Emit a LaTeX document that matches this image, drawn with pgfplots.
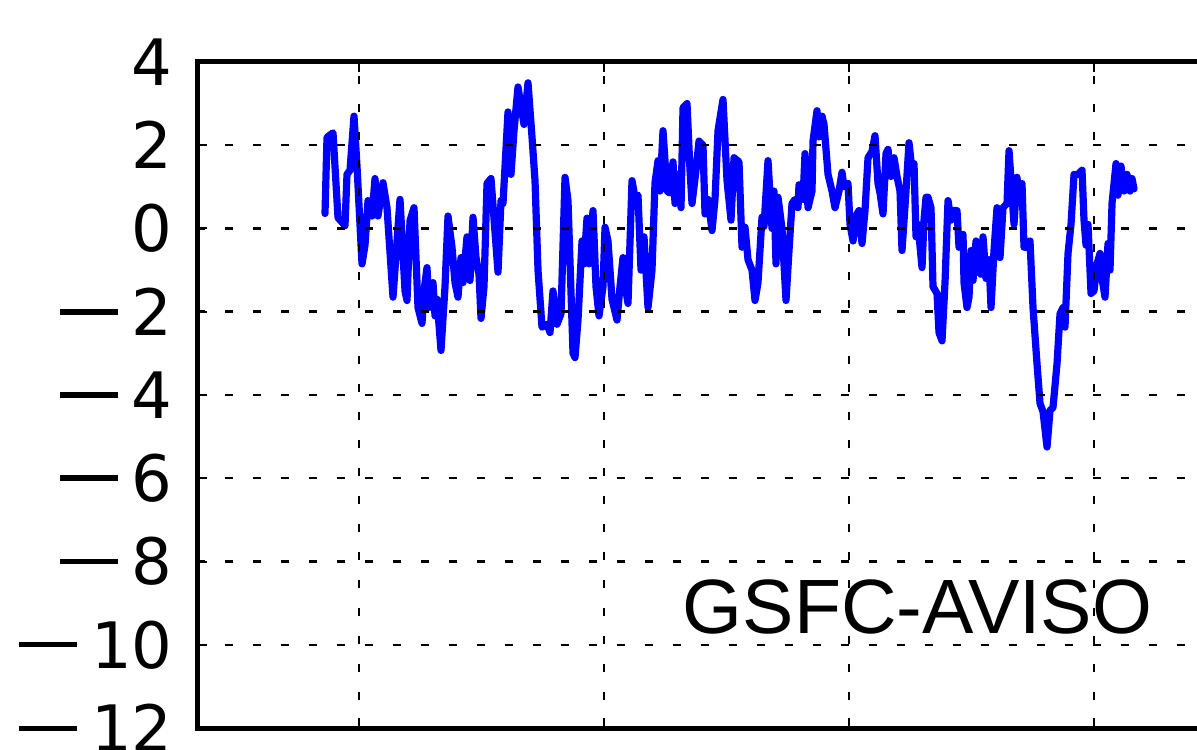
\documentclass[border=0pt]{standalone}
\usepackage{pgfplots}
\pgfplotsset{compat=1.18}
\usepackage{fontspec}
\setmainfont{DejaVu Sans}
\newfontfamily\lib{Liberation Sans}
\newcommand\mm{\rule[0.325em]{0.9em}{0.082em}\hspace{0.22em}}
\begin{document}
\begin{tikzpicture}[x=0.5pt,y=0.5pt]
\useasboundingbox (0,0) rectangle (1197,749);
\clip (0,0) rectangle (1197,749);
\begin{axis}[
  at={(98.5pt,10.5pt)}, anchor=south west,
  scale only axis, width=546.5pt, height=333pt,
  xmin=197, xmax=1290, ymin=-12, ymax=4,
  xtick={359,604,849,1094}, xticklabels={},
  ytick={-12,-10,-8,-6,-4,-2,0,2,4},
  yticklabels={\mm12,\mm10,\mm8,\mm6,\mm4,\mm2,0,2,4},
  grid=major,
  grid style={black, line width=1.25pt, dash pattern=on 4pt off 10pt},
  axis line style={black, line width=2.5pt},
  tick align=inside, major tick length=5pt,
  tick style={black, line width=1pt},
  ticklabel style={font=\fontsize{32}{32}\selectfont},
  yticklabel style={inner sep=0pt, xshift=-12pt},
  axis on top,
]
\addplot[color={rgb,255:red,0;green,0;blue,255}, line width=3.6pt, line join=round, line cap=round] coordinates {
(325,0.36) (327,2.19) (333,2.3) (338,0.26) (345,0.07) (347,1.3) (350,1.4) (354,2.7)
(357,1.5) (362,-0.85) (365,-0.4) (368,0.67) (372,0.3) (375,1.2) (378,0.3) (383,1.1)
(387,0.5) (393,-1.65) (400,0.7) (405,-1.5) (407,-1.73) (410,0.19) (414,0.5) (418,-1.9)
(422,-2.28) (424,-1.5) (427,-0.94) (429,-1.9) (433,-1.3) (435,-2.1) (437,-1.7) (441,-2.93)
(445,-1.4) (448,0.3) (452,-0.45) (455,-1.3) (458,-1.65) (461,-0.7) (463,-1.3) (467,-0.2)
(470,-1.25) (473,0.27) (476,-0.7) (479,-1.1) (481,-2.16) (484,-1.4) (487,1.08) (491,1.2)
(498,-1.05) (501,0.67) (503,0.6) (508,2.8) (511,1.3) (514,2.35) (518,3.4) (524,2.5)
(528,3.5) (532,2.2) (535,1.15) (538,-1.0) (542,-2.37) (547,-2.3) (550,-2.5) (553,-1.5)
(557,-2.3) (561,-2.05) (565,1.23) (568,0.67) (573,-3.0) (575,-3.1) (578,-2.2) (582,-0.3)
(584,-0.85) (587,0.25) (589,-0.85) (593,0.43) (596,-1.4) (599,-2.1) (603,-1.4) (605,0.03)
(608,-0.3) (612,-1.7) (617,-2.2) (620,-1.4) (623,-0.7) (626,-1.5) (628,-1.8) (632,1.15)
(635,0.75) (638,0.8) (641,-1.0) (644,-0.2) (648,-1.9) (652,-1.0) (655,1.1) (658,1.63)
(660,0.9) (663,2.35) (667,0.9) (670,0.85) (673,1.6) (675,0.6) (678,1.3) (681,0.5)
(683,2.9) (687,3.0) (690,1.4) (692,0.6) (696,1.4) (699,2.1) (703,2.0) (705,0.35)
(708,0.7) (712,-0.05) (715,0.7) (718,2.35) (723,3.1) (727,1.15) (731,0.2) (734,1.7)
(739,1.6) (742,-0.45) (745,0.03) (748,-0.75) (752,-1.0) (755,-1.73) (758,-1.3) (762,0.27)
(764,0.05) (768,1.63) (772,0.0) (774,0.9) (776,-0.85) (778,0.75) (782,0.0) (786,-1.73)
(789,-0.53) (792,0.6) (795,0.7) (798,0.5) (799,1.05) (803,0.7) (805,1.8) (808,0.5)
(812,0.9) (813,2.1) (817,2.83) (819,2.2) (822,2.7) (824,2.5) (828,1.3) (832,0.9)
(835,0.5) (839,0.9) (842,1.35) (844,1.0) (848,1.08) (850,0.1) (853,-0.3) (857,0.35)
(859,0.43) (862,-0.36) (865,0.43) (868,1.7) (872,1.85) (875,2.23) (878,1.08) (880,0.85)
(883,0.35) (886,1.8) (888,1.9) (891,1.25) (894,1.7) (897,1.25) (900,0.9) (902,-0.53)
(906,0.9) (909,2.06) (912,1.4) (914,1.56) (916,-0.2) (918,0.1) (922,-0.94) (924,0.2)
(926,0.75) (928,0.75) (931,0.5) (933,-1.4) (937,-1.56) (939,-2.5) (942,-2.7) (945,-1.3)
(948,0.67) (951,0.2) (953,0.43) (957,0.43) (959,-0.45) (963,-0.14) (964,-1.3) (967,-1.9)
(969,-1.65) (971,-0.53) (973,-1.25) (976,-0.3) (978,-1.0) (981,-1.1) (983,-0.2) (986,-1.2)
(989,-0.75) (991,-1.9) (994,-0.53) (997,0.5) (1000,-0.7) (1003,0.5) (1007,0.6) (1009,1.87)
(1012,0.83) (1014,0.1) (1017,1.23) (1019,0.7) (1022,1.08) (1024,-0.45) (1027,-0.45) (1030,-0.3)
(1033,-1.9) (1037,-3.25) (1040,-4.2) (1043,-4.4) (1047,-5.25) (1050,-4.37) (1053,-4.3) (1057,-3.25)
(1060,-2.05) (1063,-1.9) (1065,-2.37) (1068,-0.6) (1071,0.1) (1074,1.3) (1078,1.3) (1082,1.4)
(1084,0.2) (1086,-0.4) (1088,0.1) (1091,-1.56) (1094,-1.5) (1097,-0.85) (1100,-0.6) (1102,-1.2)
(1105,-1.65) (1108,-0.36) (1110,-1.0) (1112,0.6) (1116,1.56) (1118,0.8) (1121,1.5) (1124,0.9)
(1127,1.3) (1130,0.9) (1132,1.2) (1134,0.95)
};
\node[anchor=base, inner sep=0pt, font=\lib\fontsize{38.5}{38.5}\selectfont] at (axis cs:917.5,-9.73) {GSFC-AVISO};
\end{axis}
\end{tikzpicture}
\end{document}
